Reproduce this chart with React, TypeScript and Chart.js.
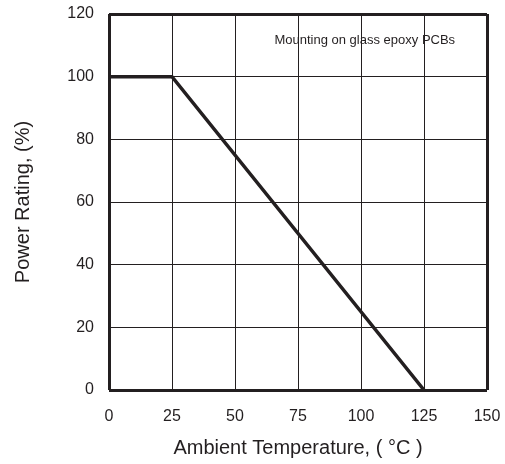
import React, { useEffect, useRef } from "react";
import { Chart, registerables, Plugin } from "chart.js";

Chart.register(...registerables);

// derating curve
const temps = [0, 25, 125];
const ratings = [100, 100, 0];

const xTicks = [0, 25, 50, 75, 100, 125, 150];
const yTicks = [0, 20, 40, 60, 80, 100, 120];

const xTitle = "Ambient Temperature, ( °C )";
const yTitle = "Power Rating, (%)";
const note = "Mounting on glass epoxy PCBs";
const notePos = [101.5, 111.7];

const INK = "#231f20";
const SANS = '"Liberation Sans", Arial, sans-serif';

// draws the small note inside the plot
const notePlugin: Plugin = {
  id: "note",
  afterDatasetsDraw(chart) {
    const { ctx, scales } = chart;
    const x = scales.x.getPixelForValue(notePos[0]);
    const y = scales.y.getPixelForValue(notePos[1]);
    ctx.save();
    ctx.font = `13px ${SANS}`;
    ctx.fillStyle = INK;
    ctx.textAlign = "center";
    ctx.textBaseline = "middle";
    ctx.fillText(note, x, y);
    ctx.restore();
  },
};

const edgeWidth = (count: number) => (c: any) =>
  c.index === 0 || c.index === count - 1 ? 3 : 1;

const App: React.FC = () => {
  const canvasRef = useRef<HTMLCanvasElement | null>(null);

  useEffect(() => {
    if (!canvasRef.current) return;
    const chart = new Chart(canvasRef.current, {
      type: "scatter",
      data: {
        datasets: [
          {
            data: temps.map((t, i) => ({ x: t, y: ratings[i] })),
            showLine: true,
            borderColor: INK,
            borderWidth: 3.5,
            pointRadius: 0,
            fill: false,
          },
        ],
      },
      options: {
        responsive: false,
        animation: false,
        layout: { padding: { top: 14, right: 18, left: 0, bottom: 0 } },
        plugins: {
          legend: { display: false },
          tooltip: { enabled: false },
        },
        scales: {
          x: {
            type: "linear",
            min: xTicks[0],
            max: xTicks[xTicks.length - 1],
            afterBuildTicks: (s: any) => {
              s.ticks = xTicks.map((v) => ({ value: v }));
            },
            afterFit: (s: any) => {
              s.height = 74;
              s.paddingLeft = 0;
              s.paddingRight = 0;
            },
            grid: {
              color: INK,
              lineWidth: edgeWidth(xTicks.length),
              drawTicks: false,
            },
            border: { display: false },
            ticks: { color: INK, padding: 17, font: { family: SANS, size: 16 } },
            title: {
              display: true,
              text: xTitle,
              color: INK,
              padding: 4,
              font: { family: SANS, size: 20 },
            },
          },
          y: {
            type: "linear",
            min: yTicks[0],
            max: yTicks[yTicks.length - 1],
            afterBuildTicks: (s: any) => {
              s.ticks = yTicks.map((v) => ({ value: v }));
            },
            afterFit: (s: any) => {
              s.width = 109;
              s.paddingTop = 0;
              s.paddingBottom = 0;
            },
            grid: {
              color: INK,
              lineWidth: edgeWidth(yTicks.length),
              drawTicks: false,
            },
            border: { display: false },
            ticks: { color: INK, padding: 15, font: { family: SANS, size: 16 } },
            title: {
              display: true,
              text: yTitle,
              color: INK,
              padding: 11,
              font: { family: SANS, size: 20 },
            },
          },
        },
      },
      plugins: [notePlugin],
    });
    return () => chart.destroy();
  }, []);

  return (
    <div style={{ position: "fixed", left: 0, top: 0, width: 505, height: 464, background: "#fff" }}>
      <canvas ref={canvasRef} width={505} height={464} />
    </div>
  );
};

export default App;
